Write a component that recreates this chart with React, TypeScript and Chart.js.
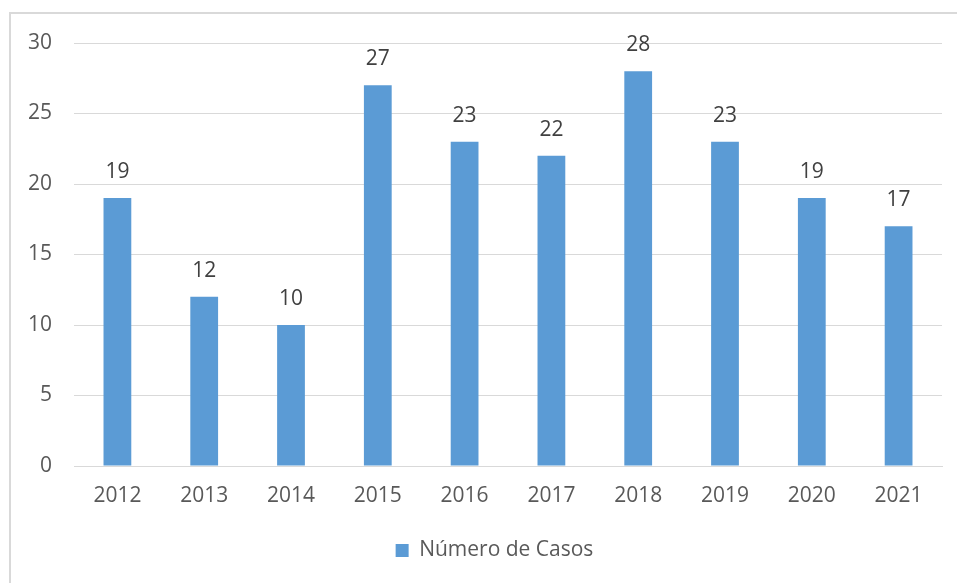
import React, { useEffect, useRef } from "react";
import { Chart, registerables } from "chart.js";

Chart.register(...registerables);

const categories = ["2012", "2013", "2014", "2015", "2016", "2017", "2018", "2019", "2020", "2021"];
const casos = [19, 12, 10, 27, 23, 22, 28, 23, 19, 17];
const seriesLabel = "Número de Casos";

const FONT = "'Open Sans', sans-serif";

const frameAndLabels = {
  id: "frameAndLabels",
  afterLayout(chart: any) {
    if (chart.legend) {
      chart.legend.left = 47;
      chart.legend.right = 942;
      chart.legend.width = 942 - 47;
    }
  },
  beforeDraw(chart: any) {
    const ctx = chart.ctx;
    ctx.save();
    ctx.fillStyle = "#ffffff";
    ctx.fillRect(0, 0, chart.width, chart.height);
    ctx.strokeStyle = "#d9d9d9";
    ctx.lineWidth = 2;
    ctx.beginPath();
    ctx.moveTo(10, chart.height);
    ctx.lineTo(10, 13);
    ctx.lineTo(chart.width, 13);
    ctx.stroke();
    ctx.restore();
  },
  afterDatasetsDraw(chart: any) {
    const ctx = chart.ctx;
    const meta = chart.getDatasetMeta(0);
    ctx.save();
    ctx.font = `21px ${FONT}`;
    ctx.fillStyle = "#404040";
    ctx.textAlign = "center";
    ctx.textBaseline = "alphabetic";
    meta.data.forEach((bar: any, i: number) => {
      ctx.fillText(String(chart.data.datasets[0].data[i]), bar.x, bar.y - 20);
    });
    ctx.restore();
  },
};

export default function App() {
  const ref = useRef<HTMLCanvasElement>(null);
  useEffect(() => {
    if (!ref.current) return;
    const chart = new Chart(ref.current, {
      type: "bar",
      data: {
        labels: categories,
        datasets: [
          {
            label: seriesLabel,
            data: casos,
            backgroundColor: "#5b9bd5",
            borderWidth: 0,
            categoryPercentage: 1,
            barPercentage: 0.32,
          },
        ],
      },
      options: {
        animation: false,
        responsive: false,
        layout: { padding: { left: 0, right: 15, top: 43, bottom: 12 } },
        plugins: {
          tooltip: { enabled: false },
          legend: {
            position: "bottom",
            labels: {
              boxWidth: 13,
              boxHeight: 13,
              padding: 10,
              color: "#595959",
              font: { family: FONT, size: 21 },
            },
          },
        },
        scales: {
          x: {
            grid: { display: false, drawTicks: false },
            border: { color: "#d9d9d9", width: 1 },
            ticks: { color: "#595959", padding: 17, font: { family: FONT, size: 21 } },
            afterFit(scale: any) {
              scale.height = 64;
            },
          },
          y: {
            min: 0,
            max: 30,
            grid: { color: "#d9d9d9", drawTicks: false },
            border: { display: false },
            ticks: { stepSize: 5, color: "#595959", padding: 22, font: { family: FONT, size: 21 } },
            afterFit(scale: any) {
              scale.width = 74;
            },
          },
        },
      },
      plugins: [frameAndLabels],
    });
    return () => chart.destroy();
  }, []);
  return (
    <div style={{ position: "fixed", left: 0, top: 0, width: 957, height: 583 }}>
      <canvas ref={ref} width={957} height={583} style={{ display: "block" }} />
    </div>
  );
}
